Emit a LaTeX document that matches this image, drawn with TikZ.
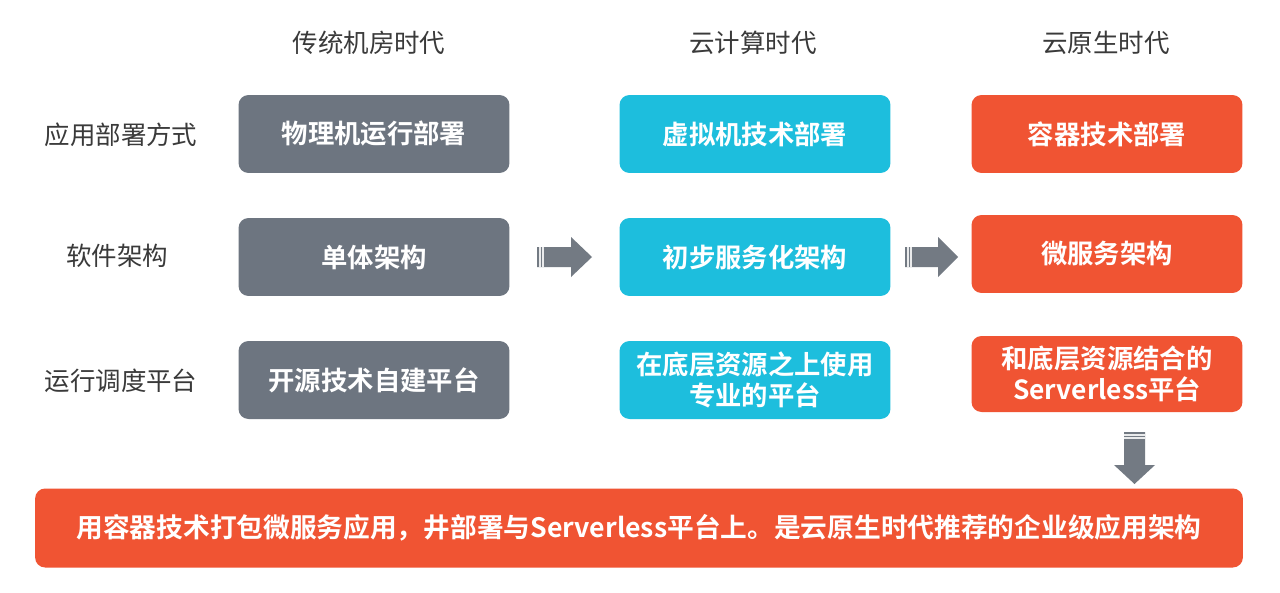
\documentclass[tikz,border=0pt]{standalone}
\usepackage{fontspec}
\setmainfont{Noto Sans CJK SC}
\newfontfamily\cjkb{Noto Sans CJK SC Bold}
\definecolor{gbox}{HTML}{6D7580}
\definecolor{cbox}{HTML}{1DBEDD}
\definecolor{rbox}{HTML}{F05433}
\definecolor{htext}{HTML}{3A3A3A}
\definecolor{arr}{HTML}{737A83}
\begin{document}
\begin{tikzpicture}[x=0.02cm,y=-0.02cm,
  boxstyle/.style={rounded corners=0.2cm,minimum width=5.42cm,minimum height=1.56cm,inner sep=0pt,
    text=white,font=\cjkb\fontsize{15}{17}\selectfont,align=center},
  gb/.style={boxstyle,fill=gbox},
  cb/.style={boxstyle,fill=cbox},
  rb/.style={boxstyle,fill=rbox},
  hdr/.style={text=htext,font=\fontsize{14.5}{17}\selectfont},
  blk/.style={fill=arr,draw=none},
  stripe/.style={draw=white!85!arr,line width=0.6pt}]
\useasboundingbox (0,0) rectangle (1280,592);
\fill[white] (0,0) rectangle (1280,592);
% headers
\node[hdr] (h1) at (369,43) {传统机房时代};
\node[hdr] (h2) at (753,43) {云计算时代};
\node[hdr] (h3) at (1106,43) {云原生时代};
% row labels
\node[hdr] (r1) at (121,135) {应用部署方式};
\node[hdr] (r2) at (117,256) {软件架构};
\node[hdr] (r3) at (121,381) {运行调度平台};
% gray column
\node[gb] (g1) at (374,134) {物理机运行部署};
\node[gb] (g2) at (374,257) {单体架构};
\node[gb] (g3) at (374,380) {开源技术自建平台};
% cyan column
\node[cb] (c1) at (755,134) {虚拟机技术部署};
\node[cb] (c2) at (755,257) {初步服务化架构};
\node[cb] (c3) at (755,380) {在底层资源之上使用\\[1pt]专业的平台};
% red column
\node[rb] (e1) at (1107,134) {容器技术部署};
\node[rb] (e2) at (1107,254) {微服务架构};
\node[rb,minimum height=1.52cm] (e3) at (1107,374) {和底层资源结合的\\[1pt]Serverless平台};
% bottom
\node[rb,minimum width=24.16cm,minimum height=1.58cm,font=\cjkb\fontsize{15.2}{17}\selectfont] (bt) at (639,528)
  {用容器技术打包微服务应用，井部署与Serverless平台上。是云原生时代推荐的企业级应用架构};
% block arrows
\fill[blk] (537,247) -- (571,247) -- (571,237) -- (592,257) -- (571,277) -- (571,267) -- (537,267) -- cycle;
\draw[stripe] (540,247) -- (540,267);
\draw[stripe] (543,247) -- (543,267);
\fill[blk] (905,247) -- (938,247) -- (938,237) -- (958,257) -- (938,277) -- (938,267) -- (905,267) -- cycle;
\draw[stripe] (908,247) -- (908,267);
\draw[stripe] (911,247) -- (911,267);
\fill[blk] (1124,432) -- (1145,432) -- (1145,465) -- (1155,465) -- (1134.5,484) -- (1114,465) -- (1124,465) -- cycle;
\draw[stripe] (1124,435) -- (1145,435);
\draw[stripe] (1124,438) -- (1145,438);
\end{tikzpicture}
\end{document}
